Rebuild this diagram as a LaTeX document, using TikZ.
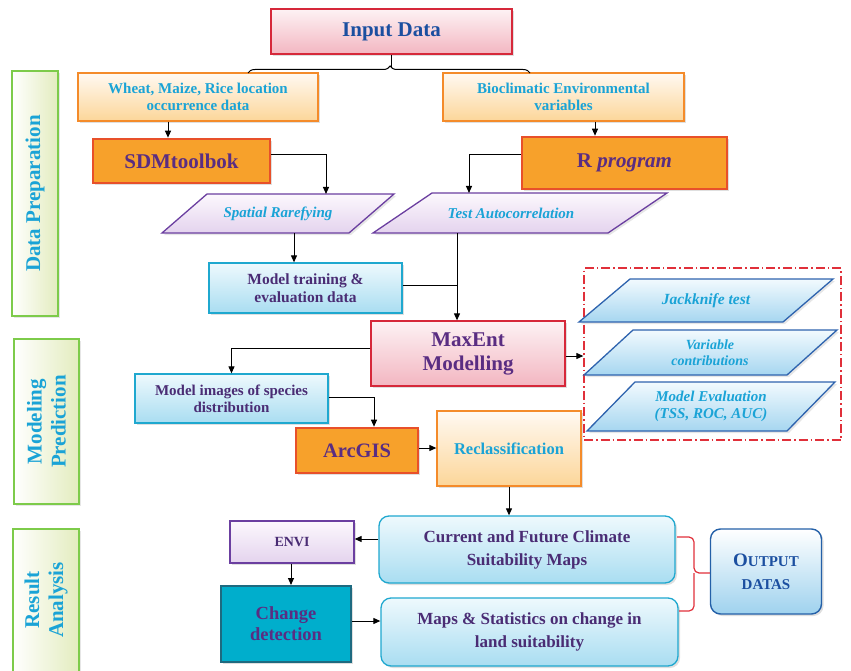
\documentclass[tikz,border=0pt]{standalone}
\usepackage{fontspec}
\setmainfont{Liberation Serif}
\usetikzlibrary{arrows.meta,shadows,decorations.pathreplacing}

\definecolor{cyantext}{HTML}{1AA3D6}
\definecolor{purptext}{HTML}{5A2D82}
\definecolor{darkpurp}{HTML}{4A2C74}
\definecolor{titleblue}{HTML}{1B4FA0}
\definecolor{pinkline}{HTML}{D6283A}
\definecolor{pinktop}{HTML}{FDF2F4}
\definecolor{pinkbot}{HTML}{F3B6C1}
\definecolor{peachline}{HTML}{F48B2A}
\definecolor{peachtop}{HTML}{FFF9F2}
\definecolor{peachbot}{HTML}{FCD699}
\definecolor{orfill}{HTML}{F7A12B}
\definecolor{orline}{HTML}{E8502A}
\definecolor{skyline}{HTML}{1FA8CF}
\definecolor{skytop}{HTML}{EEF9FD}
\definecolor{skybot}{HTML}{A9DDF1}
\definecolor{lavline}{HTML}{6B3FA0}
\definecolor{lavtop}{HTML}{FCF8FD}
\definecolor{lavbot}{HTML}{E4D3EE}
\definecolor{paraline}{HTML}{2E63AE}
\definecolor{paratop}{HTML}{F2FAFE}
\definecolor{parabot}{HTML}{A6D6F0}
\definecolor{tealfill}{HTML}{00AECC}
\definecolor{tealline}{HTML}{1E6A80}
\definecolor{outline}{HTML}{2460A8}
\definecolor{outbot}{HTML}{9FD2EE}
\definecolor{greenline}{HTML}{7DCB4A}
\definecolor{greenfill}{HTML}{E3ECBE}
\definecolor{bracered}{HTML}{E0303A}

% font size; \fsl also sets the baseline skip
\newcommand{\fs}[1]{\fontsize{#1}{#1}\selectfont}
\newcommand{\fsl}[2]{\fontsize{#1}{#2}\selectfont}

\tikzset{
  boxbase/.style={align=center, font=\bfseries, inner sep=2pt,
    drop shadow={opacity=0.25, shadow xshift=2pt, shadow yshift=-2pt}},
  pinkbox/.style={boxbase, draw=pinkline, line width=1.3pt, top color=pinktop, bottom color=pinkbot},
  peachbox/.style={boxbase, draw=peachline, line width=1.3pt, top color=peachtop, bottom color=peachbot, text=cyantext},
  toolbox/.style={boxbase, draw=orline, line width=2.6pt, fill=orfill, text=purptext},
  skybox/.style={boxbase, draw=skyline, line width=1.3pt, top color=skytop, bottom color=skybot, text=darkpurp},
  lavbox/.style={boxbase, draw=lavline, line width=1.3pt, top color=lavtop, bottom color=lavbot, text=darkpurp},
  sidebox/.style={draw=greenline, line width=1.4pt, left color=white, right color=greenfill,
    drop shadow={opacity=0.2, shadow xshift=2pt, shadow yshift=-2pt}},
  sidetext/.style={rotate=90, align=center, font=\bfseries\fsl{21}{24}, text=cyantext},
  lavpara/.style={draw=lavline, line width=1.3pt, top color=lavtop, bottom color=lavbot},
  bluepara/.style={draw=paraline, line width=1.3pt, top color=paratop, bottom color=parabot},
  paratext/.style={align=center, font=\bfseries\itshape, text=cyantext},
  arr/.style={draw=black, line width=1pt, -{Triangle[length=7pt,width=6pt]}},
  plainline/.style={draw=black, line width=1pt},
}

\begin{document}
\begin{tikzpicture}[x=1pt, y=-1pt]
\useasboundingbox (0,0) rectangle (851,671);

% section labels on the left
\node[sidebox, minimum width=46pt, minimum height=245pt] (sideA) at (35,193.5) {};
\node[sidetext] at (sideA.center) {Data Preparation};
\node[sidebox, minimum width=65pt, minimum height=165pt] (sideB) at (46.5,421.5) {};
\node[sidetext] at (sideB.center) {Modeling\\Prediction};
\node[sidebox, minimum width=66pt, minimum height=150pt] (sideC) at (46,604) {};
\node[sidetext] at (46,600) {Result\\Analysis};

% input stage
\node[pinkbox, minimum width=241pt, minimum height=45pt, text=titleblue, font=\bfseries\fs{21}] (input) at (391.5,31.5) {Input Data};
\node[peachbox, minimum width=240pt, minimum height=48pt, font=\bfseries\fsl{15}{17}] (wheat) at (198,97) {Wheat, Maize, Rice location\\occurrence data};
\node[peachbox, minimum width=241pt, minimum height=48pt, font=\bfseries\fsl{15}{17}] (bio) at (563.5,97) {Bioclimatic Environmental\\variables};

% tools
\node[toolbox, minimum width=177pt, minimum height=44pt, font=\bfseries\fs{21}] (sdm) at (181.5,161) {SDMtoolbok};
\node[toolbox, minimum width=205pt, minimum height=52pt, font=\bfseries\fs{21}] (rprog) at (624.5,163) {R \textit{program}};

% parallelogram steps
\path[lavpara, drop shadow={opacity=0.2, shadow xshift=2pt, shadow yshift=-2pt}] (162,233) -- (207,194) -- (394,194) -- (349,233) -- cycle;
\node[paratext, font=\bfseries\itshape\fs{15}] (spat) at (278,213.5) {Spatial Rarefying};
\path[lavpara, drop shadow={opacity=0.2, shadow xshift=2pt, shadow yshift=-2pt}] (373,233) -- (432,193) -- (667,193) -- (608,233) -- cycle;
\node[paratext, font=\bfseries\itshape\fs{15}] (test) at (511,213) {Test Autocorrelation};
\coordinate (spatin) at (326,194);
\coordinate (spatout) at (294,233);
\coordinate (testin) at (469,193);
\coordinate (testout) at (457,233);

\node[skybox, minimum width=193pt, minimum height=50pt, font=\bfseries\fsl{15.5}{17.5}] (train) at (305.5,288) {Model training \&\\evaluation data};

\node[pinkbox, minimum width=194pt, minimum height=65pt, text=purptext, font=\bfseries\fsl{21}{24}] (maxent) at (468,353.5) {MaxEnt\\Modelling};

% MaxEnt outputs
\node[draw=bracered, line width=1.3pt, dash pattern=on 9pt off 3pt on 1.5pt off 3pt, minimum width=257pt, minimum height=172pt] (dbox) at (712.5,354) {};
\path[bluepara, drop shadow={opacity=0.2, shadow xshift=2pt, shadow yshift=-2pt}] (579,322) -- (630,279) -- (833,279) -- (783,322) -- cycle;
\node[paratext, font=\bfseries\itshape\fs{15.5}] (jack) at (706,300.5) {Jackknife test};
\path[bluepara, drop shadow={opacity=0.2, shadow xshift=2pt, shadow yshift=-2pt}] (584,375) -- (633,330) -- (837,330) -- (787,375) -- cycle;
\node[paratext, font=\bfseries\itshape\fsl{14}{16}] (varc) at (710,352.5) {Variable\\contributions};
\path[bluepara, drop shadow={opacity=0.2, shadow xshift=2pt, shadow yshift=-2pt}] (587,431) -- (635,382) -- (835,382) -- (787,431) -- cycle;
\node[paratext, font=\bfseries\itshape\fsl{15}{17.5}] (meval) at (711,406.5) {Model Evaluation\\(TSS, ROC, AUC)};

% prediction stage
\node[skybox, minimum width=193pt, minimum height=49pt, font=\bfseries\fsl{15}{17}] (images) at (231.5,398.5) {Model images of species\\distribution};
\node[toolbox, minimum width=122pt, minimum height=45pt, font=\bfseries\fs{20.5}] (arcgis) at (357,450.5) {ArcGIS};
\node[peachbox, minimum width=144pt, minimum height=75pt, font=\bfseries\fs{16.5}] (reclass) at (509,448.5) {Reclassification};

% result stage
\node[skybox, rounded corners=10pt, minimum width=296pt, minimum height=67pt, font=\bfseries\fsl{17}{23}] (current) at (527,549.5) {Current and Future Climate\\Suitability Maps};
\node[skybox, rounded corners=10pt, minimum width=297pt, minimum height=68pt, font=\bfseries\fsl{17}{23}] (maps) at (529.5,632) {Maps \& Statistics on change in\\land suitability};
\node[lavbox, minimum width=124pt, minimum height=42pt, font=\bfseries\fs{14}] (envi) at (292,542) {ENVI};
\node[boxbase, draw=tealline, line width=2pt, fill=tealfill, text=purptext, minimum width=130pt, minimum height=76pt, font=\bfseries\fsl{18.5}{21}] (change) at (286,624) {Change\\detection};
\node[boxbase, draw=outline, line width=1.4pt, rounded corners=10pt, top color=white, bottom color=outbot, text=titleblue, minimum width=111pt, minimum height=85pt, font=\bfseries\fsl{15}{23}] (output) at (766,571.5) {{\fs{19}O}UTPUT\\DATAS};

% connectors
\coordinate (braceL) at (248,73);
\coordinate (braceR) at (530,73);
\draw[plainline, decorate, decoration={brace, amplitude=7pt, aspect=0.504}] (braceL) -- (braceR);
\draw[plainline] (input.south) -- ++(0,12);

\draw[arr] ([xshift=-13.5pt]sdm.north |- wheat.south) -- ([xshift=-13.5pt]sdm.north);
\draw[arr] ([xshift=-29.5pt]rprog.north |- bio.south) -- ([xshift=-29.5pt]rprog.north);
\draw[arr] ([yshift=6pt]sdm.east) -| (spatin);
\draw[arr] ([yshift=8pt]rprog.west) -| (testin);
\draw[arr] (spatout) -- (spatout |- train.north);
\draw[arr] (testout) -- (testout |- maxent.north);
\draw[plainline] ([yshift=3pt]train.east) -- ([yshift=3pt]train.east -| testout);
\draw[arr] ([yshift=5.5pt]maxent.west) -| (images.north);
\draw[arr] ([yshift=1.5pt]images.east) -| ([xshift=17pt]arcgis.north);
\draw[arr] ([yshift=2.5pt]arcgis.east) -- ([yshift=2.5pt]arcgis.east -| reclass.west);
\draw[arr] ([yshift=-2.5pt]maxent.east) -- ([yshift=-2.5pt]maxent.east -| dbox.west);
\draw[arr] (reclass.south) -- (reclass.south |- current.north);
\draw[arr] ([yshift=10.5pt]current.west) -- ([yshift=10.5pt]current.west -| envi.east);
\draw[arr] ([xshift=-1pt]envi.south) -- ([xshift=-1pt]envi.south |- change.north);
\draw[arr] ([yshift=3pt]change.east) -- ([yshift=3pt]change.east -| maps.west);

% red brace gathering the result maps
\coordinate (bTop) at (677,537);
\coordinate (bBot) at (679,611);
\coordinate (bMid) at (694,573);
\draw[bracered, line width=1.2pt, rounded corners=5pt] (bTop) -| (bMid) -- (output.west |- bMid);
\draw[bracered, line width=1.2pt, rounded corners=5pt] (bBot) -| (bMid);
\end{tikzpicture}
\end{document}
